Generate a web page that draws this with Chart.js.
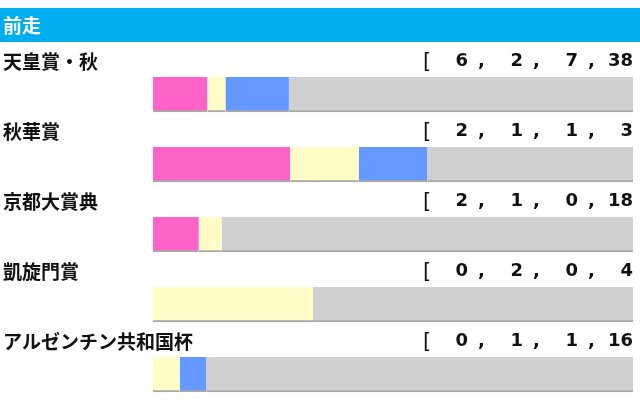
<!DOCTYPE html>
<html>
<head>
<meta charset="utf-8">
<script src="https://cdn.jsdelivr.net/npm/chart.js@4"></script>
<style>
  html, body { margin: 0; padding: 0; background: #fff; }
  #wrap { position: relative; width: 640px; height: 400px; }
</style>
</head>
<body>
<div id="wrap"><canvas id="myChart" width="640" height="400"></canvas></div>
<script>
// 前走ごとの成績 [1着, 2着, 3着, 着外]
const title = '前走';
const races = ['天皇賞・秋', '秋華賞', '京都大賞典', '凱旋門賞', 'アルゼンチン共和国杯'];
const first = [6, 2, 2, 0, 0];
const second = [2, 1, 1, 2, 1];
const third = [7, 1, 0, 0, 1];
const other = [38, 3, 18, 4, 16];

const colors = ['#ff63c8', '#fffcc8', '#6699ff', '#d0d0d0'];

// 各行は合計に対する割合で描く
const totals = races.map((_, i) => first[i] + second[i] + third[i] + other[i]);
const pct = arr => arr.map((v, i) => v / totals[i] * 100);

const series = [first, second, third, other];

const rowText = {
    id: 'rowText',
    afterDraw(chart) {
        const c = chart.ctx;
        const y = chart.scales.y;
        c.save();
        // 見出し
        c.fillStyle = '#00aeef';
        c.fillRect(0, 8, 640, 34);
        c.fillStyle = '#fff';
        c.font = 'bold 19px "Noto Sans CJK JP"';
        c.textBaseline = 'middle';
        c.textAlign = 'left';
        c.fillText(title, 3, 26);

        races.forEach((r, i) => {
            const cy = y.getPixelForValue(i) - 33;
            c.fillStyle = '#111';
            c.font = 'bold 19px "Noto Sans CJK JP"';
            c.textAlign = 'left';
            c.fillText(r, 3, cy);

            c.font = '21px "DejaVu Sans"';
            c.fillText('[', 423, cy + 1);
            c.font = 'bold 18px "DejaVu Sans"';
            const nums = [first[i], second[i], third[i], other[i]];
            nums.forEach((n, k) => {
                const x = 468 + k * 55;
                c.textAlign = 'right';
                c.fillText(String(n), x, cy);
                if (k < 3) {
                    c.textAlign = 'left';
                    c.fillText(',', x + 10, cy);
                }
            });
        });
        c.restore();
    }
};

new Chart(document.getElementById('myChart'), {
    type: 'bar',
    data: {
        labels: races,
        datasets: series.map((s, k) => ({
            data: pct(s),
            backgroundColor: colors[k],
            borderColor: '#a8a8a8',
            borderWidth: { top: 0, right: 0, bottom: 2, left: 0 },
            borderSkipped: false,
            barThickness: 35,
            clip: false
        }))
    },
    options: {
        indexAxis: 'y',
        responsive: false,
        animation: false,
        layout: { padding: { left: 153, right: 7, top: 94.5, bottom: 25.5 } },
        plugins: {
            legend: { display: false },
            tooltip: { enabled: false }
        },
        scales: {
            x: {
                stacked: true,
                min: 0,
                max: 100,
                display: false
            },
            y: {
                stacked: true,
                offset: false,
                display: false
            }
        }
    },
    plugins: [rowText]
});
</script>
</body>
</html>
